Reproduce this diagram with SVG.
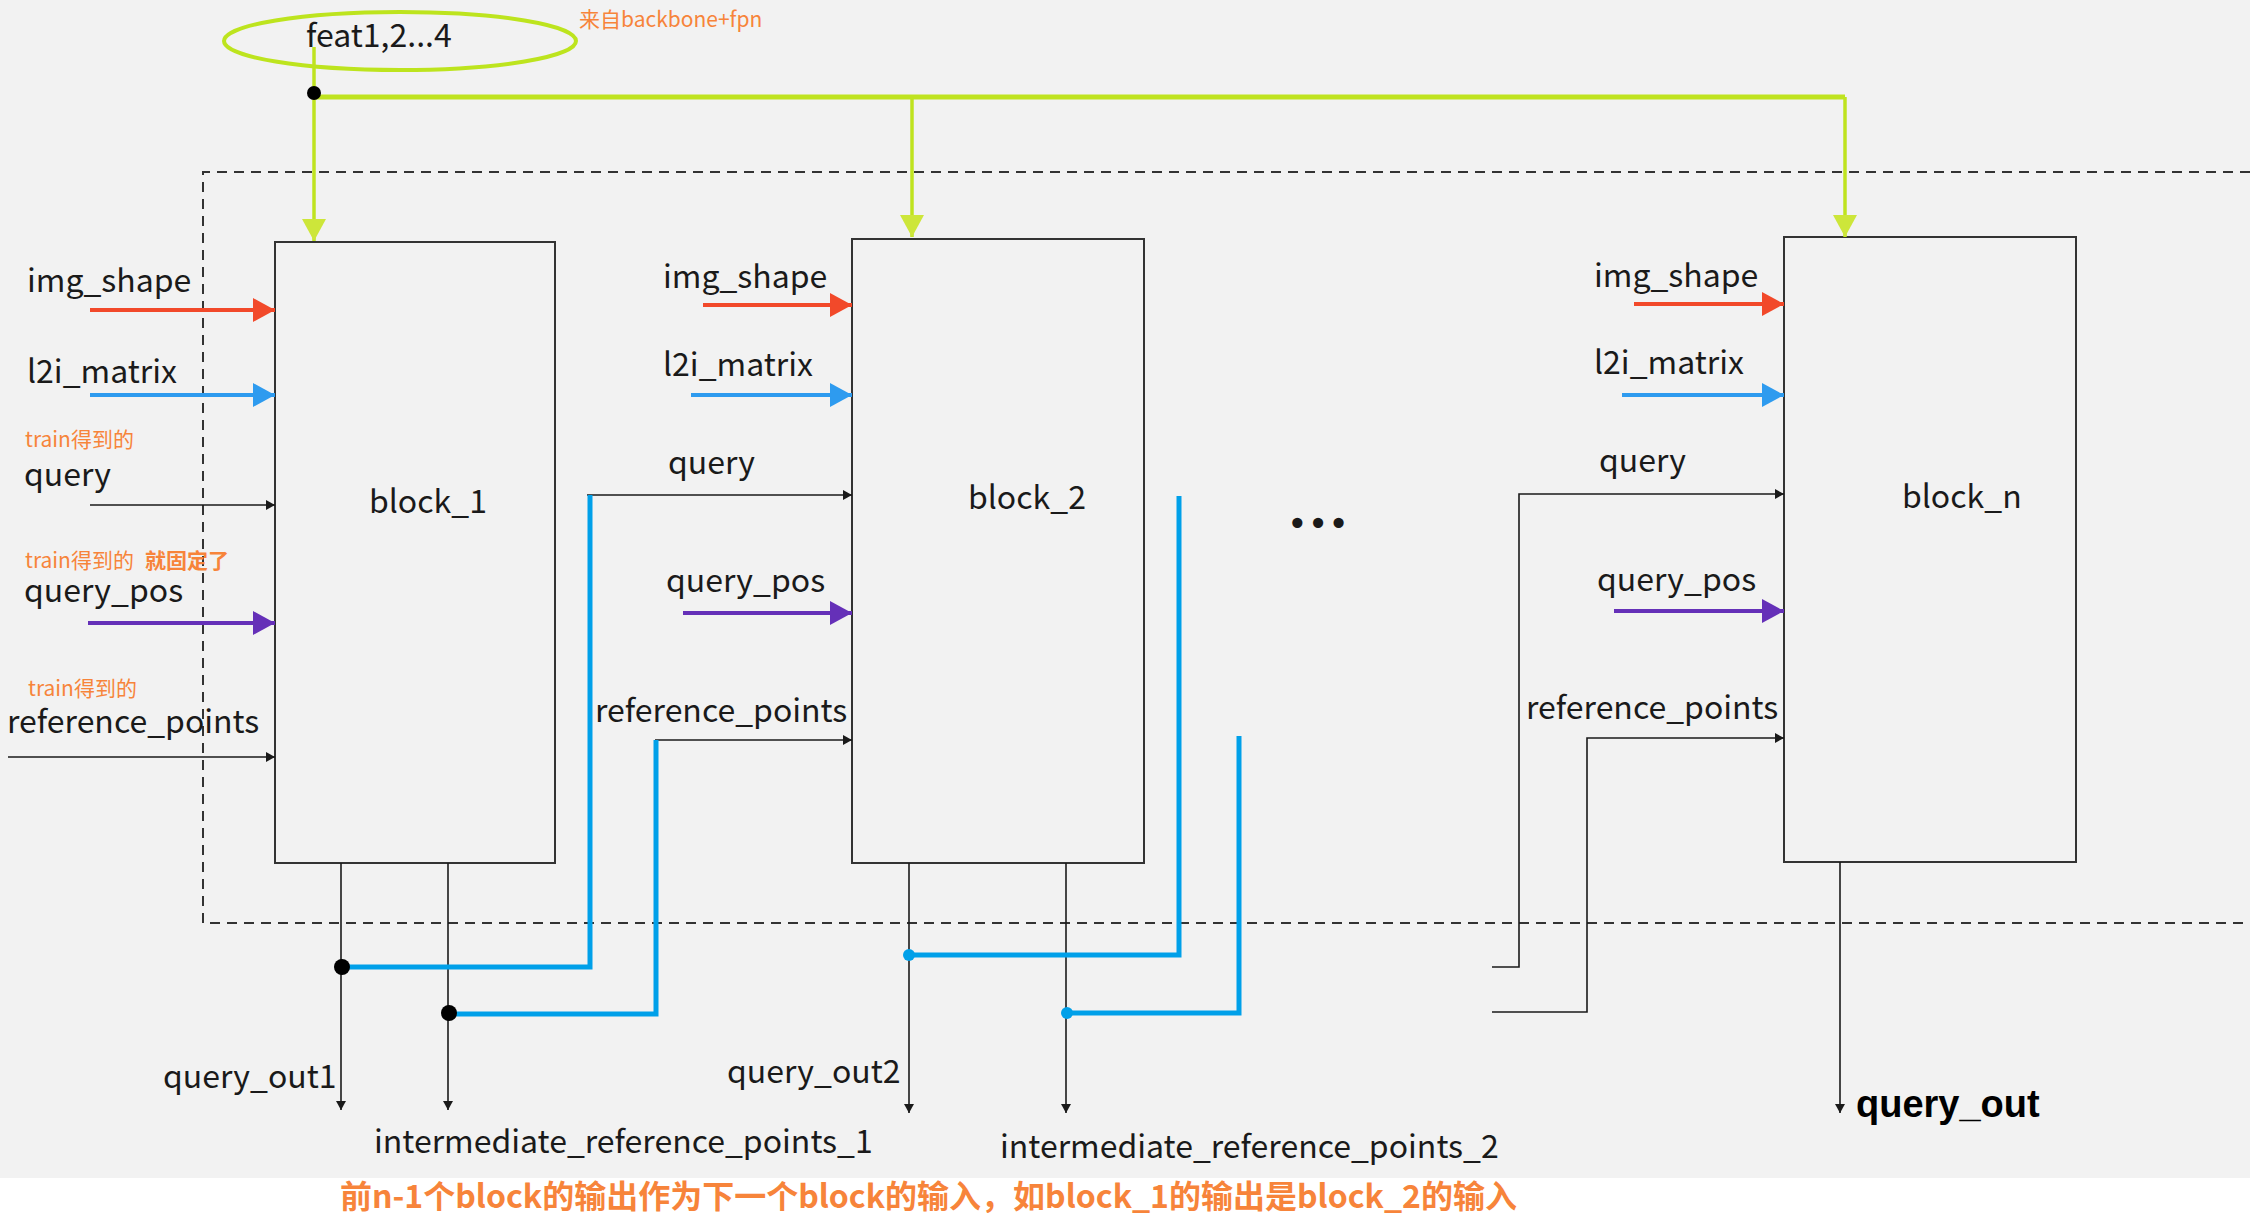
<svg xmlns="http://www.w3.org/2000/svg" width="2250" height="1220" viewBox="0 0 2250 1220">
<defs>
<style>
.t{font-family:"Noto Sans CJK SC","Noto Sans",sans-serif;font-size:32px;fill:#1a1a1a}
.o{font-family:"Noto Sans CJK SC","Noto Sans",sans-serif;font-size:21px;fill:#f7843a}
.ob{font-family:"Noto Sans CJK SC","Noto Sans",sans-serif;font-weight:bold;fill:#f7843a}
.blk{fill:#f2f2f2;stroke:#333;stroke-width:2}
.thin{fill:none;stroke:#1a1a1a;stroke-width:1.6}
.blue{fill:none;stroke:#00a0e9;stroke-width:5;stroke-linejoin:miter}
.green{fill:none;stroke:#bfe31f}
.dash{fill:none;stroke:#333;stroke-width:2;stroke-dasharray:10 7}
</style>
<marker id="aR" markerUnits="userSpaceOnUse" markerWidth="24" markerHeight="26" refX="22" refY="12" orient="auto"><path d="M0,0 L22,12 L0,24 z" fill="#f2492a"/></marker>
<marker id="aB" markerUnits="userSpaceOnUse" markerWidth="24" markerHeight="26" refX="22" refY="12" orient="auto"><path d="M0,0 L22,12 L0,24 z" fill="#2e9bef"/></marker>
<marker id="aP" markerUnits="userSpaceOnUse" markerWidth="24" markerHeight="26" refX="22" refY="12" orient="auto"><path d="M0,0 L22,12 L0,24 z" fill="#6530b8"/></marker>
<marker id="aG" markerUnits="userSpaceOnUse" markerWidth="24" markerHeight="26" refX="22" refY="12" orient="auto"><path d="M0,0 L22,12 L0,24 z" fill="#cde63a"/></marker>
<marker id="aK" markerUnits="userSpaceOnUse" markerWidth="12" markerHeight="12" refX="9" refY="5" orient="auto"><path d="M0,0 L9,5 L0,10 z" fill="#1a1a1a"/></marker>
</defs>
<rect x="0" y="0" width="2250" height="1220" fill="#ffffff"/>
<rect x="0" y="0" width="2250" height="1178" fill="#f2f2f2"/>

<g id="frame">
<path class="dash" d="M2250,172 H203 V923 H2250"/>
</g>

<g id="feat">
<ellipse cx="400" cy="41" rx="176" ry="29" fill="none" stroke="#bde41e" stroke-width="4"/>
<text class="t" x="306" y="47">feat1,2...4</text>
<text class="o" x="579" y="27" font-size="21.5">来自backbone+fpn</text>
</g>

<g id="block_1">
<rect class="blk" x="275" y="242" width="280" height="621"/>
<text class="t" x="369" y="513">block_1</text>
</g>
<g id="block_2">
<rect class="blk" x="852" y="239" width="292" height="624"/>
<text class="t" x="968" y="509">block_2</text>
</g>
<g id="block_n">
<rect class="blk" x="1784" y="237" width="292" height="625"/>
<text class="t" x="1902" y="508">block_n</text>
</g>

<g id="labels">
<text class="t" x="27" y="292">img_shape</text>
<text class="t" x="27" y="383">l2i_matrix</text>
<text class="o" x="25" y="447">train得到的</text>
<text class="t" x="24" y="486">query</text>
<text class="o" x="25" y="568">train得到的 <tspan class="ob" x="145" font-size="21">就固定了</tspan></text>
<text class="t" x="24" y="602">query_pos</text>
<text class="o" x="28" y="696">train得到的</text>
<text class="t" x="7" y="733">reference_points</text>

<text class="t" x="663" y="288">img_shape</text>
<text class="t" x="663" y="376">l2i_matrix</text>
<text class="t" x="668" y="474">query</text>
<text class="t" x="666" y="592">query_pos</text>
<text class="t" x="595" y="722">reference_points</text>

<text class="t" x="1594" y="287">img_shape</text>
<text class="t" x="1594" y="374">l2i_matrix</text>
<text class="t" x="1599" y="472">query</text>
<text class="t" x="1597" y="591">query_pos</text>
<text class="t" x="1526" y="719">reference_points</text>

<text class="t" x="163" y="1088">query_out1</text>
<text class="t" x="374" y="1153">intermediate_reference_points_1</text>
<text class="t" x="727" y="1083">query_out2</text>
<text class="t" x="1000" y="1158">intermediate_reference_points_2</text>
<text x="1856" y="1117" font-family="Liberation Sans, Arial, sans-serif" font-weight="bold" font-size="38" fill="#000">query_out</text>
<text x="1287" y="536" font-family="DejaVu Sans, sans-serif" font-size="35" fill="#1a1a1a">•••</text>
<text class="ob" x="340" y="1208" font-size="32">前n-1个block的输出作为下一个block的输入，如block_1的输出是block_2的输入</text>
</g>

<g id="connectors">
<path class="green" stroke-width="3.5" d="M314,47 V241" marker-end="url(#aG)"/>
<path class="green" stroke-width="5" d="M314,97 H1845"/>
<path class="green" stroke-width="3.5" d="M912,97 V237" marker-end="url(#aG)"/>
<path class="green" stroke-width="3.5" d="M1845,97 V237" marker-end="url(#aG)"/>
<circle cx="314" cy="93" r="7" fill="#000"/>

<path d="M90,310 H275" stroke="#f2492a" stroke-width="4" marker-end="url(#aR)"/>
<path d="M90,395 H275" stroke="#2e9bef" stroke-width="4" marker-end="url(#aB)"/>
<path class="thin" d="M90,505 H275" marker-end="url(#aK)"/>
<path d="M88,623 H275" stroke="#6530b8" stroke-width="4" marker-end="url(#aP)"/>
<path class="thin" d="M8,757 H275" marker-end="url(#aK)"/>

<path d="M703,305 H852" stroke="#f2492a" stroke-width="4" marker-end="url(#aR)"/>
<path d="M691,395 H852" stroke="#2e9bef" stroke-width="4" marker-end="url(#aB)"/>
<path class="thin" d="M587,495 H852" marker-end="url(#aK)"/>
<path d="M683,613 H852" stroke="#6530b8" stroke-width="4" marker-end="url(#aP)"/>
<path class="thin" d="M655,740 H852" marker-end="url(#aK)"/>

<path d="M1634,304 H1784" stroke="#f2492a" stroke-width="4" marker-end="url(#aR)"/>
<path d="M1622,395 H1784" stroke="#2e9bef" stroke-width="4" marker-end="url(#aB)"/>
<path class="thin" d="M1492,967 H1519 V494 H1784" marker-end="url(#aK)"/>
<path d="M1614,611 H1784" stroke="#6530b8" stroke-width="4" marker-end="url(#aP)"/>
<path class="thin" d="M1492,1012 H1587 V738 H1784" marker-end="url(#aK)"/>

<path class="thin" d="M341,863 V1110" marker-end="url(#aK)"/>
<path class="thin" d="M448,863 V1110" marker-end="url(#aK)"/>
<path class="thin" d="M909,863 V1113" marker-end="url(#aK)"/>
<path class="thin" d="M1066,863 V1113" marker-end="url(#aK)"/>
<path class="thin" d="M1840,862 V1113" marker-end="url(#aK)"/>

<path class="blue" d="M342,967 H590 V495"/>
<path class="blue" d="M449,1014 H656 V740"/>
<path class="blue" d="M909,955 H1179 V496"/>
<path class="blue" d="M1067,1013 H1239 V736"/>
<circle cx="342" cy="967" r="8" fill="#000"/>
<circle cx="449" cy="1013" r="8" fill="#000"/>
<circle cx="909" cy="955" r="6" fill="#00a0e9"/>
<circle cx="1067" cy="1013" r="6" fill="#00a0e9"/>
</g>
</svg>
